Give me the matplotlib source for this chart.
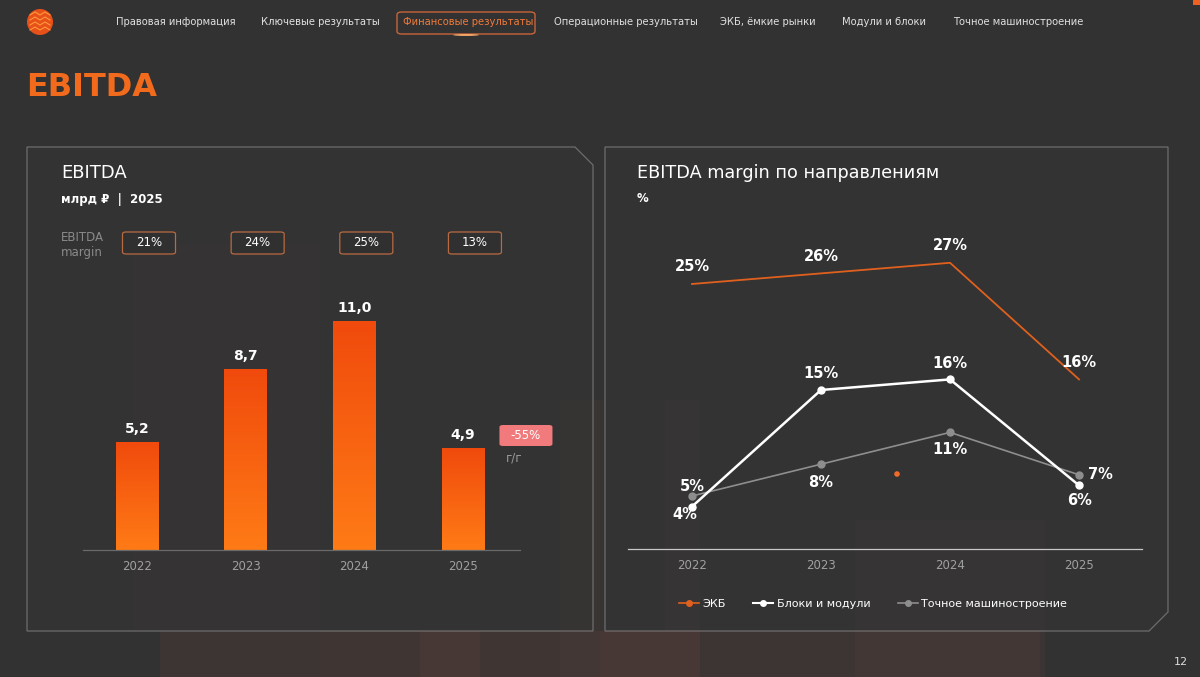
import numpy as np
import matplotlib
matplotlib.use("Agg")
import matplotlib.pyplot as plt
from matplotlib.patches import Polygon, FancyBboxPatch, Rectangle, Ellipse
from matplotlib.lines import Line2D
from matplotlib.colors import LinearSegmentedColormap

plt.rcParams['font.family'] = ['DejaVu Sans', 'Noto Sans']

W, H = 1200, 677

# данные
years = ["2022", "2023", "2024", "2025"]
ebitda = [5.2, 8.7, 11.0, 4.9]
ebitda_labels = ["5,2", "8,7", "11,0", "4,9"]
ebitda_margin = ["21%", "24%", "25%", "13%"]
yoy_change = "-55%"

ekb = [25, 26, 27, 16]
blocks = [4, 15, 16, 6]
precision = [5, 8, 11, 7]
series_names = ["ЭКБ", "Блоки и модули", "Точное машиностроение"]

nav_items = ["Правовая информация", "Ключевые результаты", "Финансовые результаты",
             "Операционные результаты", "ЭКБ, ёмкие рынки", "Модули и блоки",
             "Точное машиностроение"]
active_item = 2

BG = "#323232"
ORANGE = "#f26b1d"
C_EKB = "#e0601e"
C_BLK = "#ffffff"
C_PRC = "#8e8e8e"


def fx(x):
    return x / W


def fy(y):
    return 1 - y / H


fig = plt.figure(figsize=(12, 6.77), dpi=100)
fig.patch.set_facecolor(BG)


def frect(x0, y0, x1, y1, color, alpha, z=0.1):
    fig.add_artist(Rectangle((fx(x0), fy(y1)), (x1 - x0) / W, (y1 - y0) / H,
                             transform=fig.transFigure, fc=color, alpha=alpha,
                             lw=0, zorder=z))


def fdot(x, y, r, color, z=3, alpha=1.0):
    fig.add_artist(Ellipse((fx(x), fy(y)), 2 * r / W, 2 * r / H,
                           transform=fig.transFigure, fc=color, ec="none",
                           alpha=alpha, zorder=z))


# размытые фоновые пятна
frect(133, 245, 320, 631, "#5a3f36", 0.14)
frect(320, 400, 600, 677, "#5a3f36", 0.10)
frect(560, 400, 700, 677, "#6a4a42", 0.08)
frect(665, 300, 780, 631, "#5a4540", 0.10)
frect(855, 520, 1045, 677, "#6a4a40", 0.16)
frect(160, 631, 1040, 677, "#5a403a", 0.25)
frect(420, 631, 480, 677, "#7a4a40", 0.15)
frect(600, 631, 700, 677, "#6a3f3a", 0.2)

# панели
left_panel = [(27, 147), (575, 147), (593, 165), (593, 631), (27, 631)]
right_panel = [(605, 147), (1168, 147), (1168, 612), (1149, 631), (605, 631)]
for pts in (left_panel, right_panel):
    fig.add_artist(Polygon([(fx(x), fy(y)) for x, y in pts], closed=True,
                           transform=fig.transFigure, fc="#343434", alpha=0.55,
                           ec="#9c9c9c", lw=0.9, zorder=0.5))

# навигация
fdot(40, 22, 13, "#e8501a")
for k in range(4):
    yy = 13 + k * 5
    fig.add_artist(Line2D([fx(30), fx(35), fx(40), fx(45), fx(50)],
                          [fy(yy + 2), fy(yy - 1), fy(yy + 2), fy(yy - 1), fy(yy + 2)],
                          transform=fig.transFigure, color="#ff9a3a", lw=0.8, zorder=4))

nav_x = [116, 261, 403, 554, 720, 842, 953]
for i, (name, x) in enumerate(zip(nav_items, nav_x)):
    col = "#f07a3a" if i == active_item else "#e0e0e0"
    fig.text(fx(x), fy(22), name, color=col, fontsize=7.2, ha="left", va="center")
fig.add_artist(FancyBboxPatch((fx(397), fy(34)), 138 / W, 22 / H,
                              boxstyle="round,pad=0,rounding_size=0.004",
                              transform=fig.transFigure, fc="none", ec="#c8643a",
                              lw=1.0, zorder=3))
fig.add_artist(Ellipse((fx(466), fy(35)), 26 / W, 2 / H, transform=fig.transFigure,
                       fc="#ffb070", ec="none", alpha=0.9, zorder=3))
frect(1193, 0, 1200, 5, "#f06020", 1.0, z=3)

fig.text(fx(26), fy(88), "EBITDA", color=ORANGE, fontsize=23, fontweight="bold",
         ha="left", va="center")

# левая панель: заголовки
fig.text(fx(61), fy(173), "EBITDA", color="white", fontsize=13, ha="left", va="center")
fig.text(fx(61), fy(200), "млрд ₽  |  2025", color="white", fontsize=8.5,
         fontweight="semibold", ha="left", va="center")
fig.text(fx(61), fy(238), "EBITDA", color="#8a8a8a", fontsize=8.5, ha="left", va="center")
fig.text(fx(61), fy(252), "margin", color="#8a8a8a", fontsize=8.5, ha="left", va="center")

# столбцы EBITDA
ax1 = fig.add_axes([fx(83), fy(550), (520 - 83) / W, (550 - 300) / H])
ax1.set_facecolor("none")
ax1.set_zorder(2)
x = np.arange(len(years))
bars = ax1.bar(x, ebitda, width=0.39, color="none", lw=0)
cmap = LinearSegmentedColormap.from_list("bar", ["#ff7b16", "#f04a0c"])
grad = np.linspace(0, 1, 256).reshape(-1, 1)
for b in bars:
    im = ax1.imshow(grad, extent=[b.get_x(), b.get_x() + b.get_width(), 0, b.get_height()],
                    origin="lower", aspect="auto", cmap=cmap, zorder=2)
    im.set_clip_path(b)
ax1.set_xlim(-0.497, 3.525)
ax1.set_ylim(0, 12.02)
for i, (v, lab) in enumerate(zip(ebitda, ebitda_labels)):
    ax1.annotate(lab, (i, v), xytext=(0, 9.5), textcoords="offset points",
                 ha="center", va="center", color="white", fontsize=10, fontweight="bold")
ax1.set_xticks(x)
ax1.set_xticklabels(years, color="#a0a0a0", fontsize=8.5)
ax1.tick_params(axis="x", length=0, pad=7)
ax1.set_yticks([])
for s in ("top", "right", "left"):
    ax1.spines[s].set_visible(False)
ax1.spines["bottom"].set_color("#6a6a6a")
ax1.spines["bottom"].set_linewidth(0.9)

# плашки маржи EBITDA
inv = fig.transFigure.inverted()
for i, m in enumerate(ebitda_margin):
    cx = inv.transform(ax1.transData.transform((i, 0)))[0] + 12 / W
    fig.add_artist(FancyBboxPatch((cx - 26.5 / W, fy(254)), 53 / W, 22 / H,
                                  boxstyle="round,pad=0,rounding_size=0.003",
                                  transform=fig.transFigure, fc="#303030",
                                  ec="#b86a40", lw=0.9, zorder=3))
    fig.text(cx, fy(243), m, color="white", fontsize=8.5, ha="center", va="center",
             zorder=4)

# изменение г/г
cx = inv.transform(ax1.transData.transform((3, 0)))[0] + 63 / W
fig.add_artist(FancyBboxPatch((cx - 26.5 / W, fy(446)), 53 / W, 21 / H,
                              boxstyle="round,pad=0,rounding_size=0.003",
                              transform=fig.transFigure, fc="#f07a7c", ec="none",
                              zorder=3))
fig.text(cx, fy(435.5), yoy_change, color="white", fontsize=8.5, ha="center",
         va="center", zorder=4)
fig.text(fx(514), fy(458), "г/г", color="#9a9a9a", fontsize=8.5, ha="center", va="center")

# правая панель
fig.text(fx(637), fy(173), "EBITDA margin по направлениям", color="white", fontsize=12.7,
         ha="left", va="center")
fig.text(fx(637), fy(199), "%", color="white", fontsize=8.5, fontweight="semibold",
         ha="left", va="center")

ax2 = fig.add_axes([fx(628), fy(549), (1142 - 628) / W, (549 - 240) / H])
ax2.set_facecolor("none")
ax2.set_zorder(2)
ax2.plot(x, precision, color=C_PRC, lw=1.2, marker="o", ms=5, mfc=C_PRC, mec=C_PRC, zorder=3)
ax2.plot(x, blocks, color=C_BLK, lw=1.8, marker="o", ms=5, mfc=C_BLK, mec=C_BLK, zorder=4)
ax2.plot(x, ekb, color=C_EKB, lw=1.3, zorder=3)
ax2.set_xlim(-0.496, 3.488)
ax2.set_ylim(0, 29.15)
ax2.set_xticks(x)
ax2.set_xticklabels(years, color="#a0a0a0", fontsize=8.5)
ax2.tick_params(axis="x", length=0, pad=7)
ax2.set_yticks([])
for s in ("top", "right", "left"):
    ax2.spines[s].set_visible(False)
ax2.spines["bottom"].set_color("#c8c8c8")
ax2.spines["bottom"].set_linewidth(0.9)

# подписи значений (смещения в пикселях)
off_ekb = [(0, 17), (0, 17), (0, 17), (0, 17)]
off_blk = [(-7, -8), (0, 16), (0, 16), (1, -15)]
off_prc = [(0, 9), (0, -18), (0, -17), (21, 0)]
for vals, offs in ((ekb, off_ekb), (blocks, off_blk), (precision, off_prc)):
    for i, (v, (dx, dy)) in enumerate(zip(vals, offs)):
        ax2.annotate(f"{v}%", (i, v), xytext=(dx * 0.72, dy * 0.72),
                     textcoords="offset points", ha="center", va="center",
                     color="white", fontsize=10.5, fontweight="bold", zorder=5)

# случайная точка на фоне
fdot(897, 474, 2.8, "#f06a2a")

# легенда
handles = [
    Line2D([], [], color=C_EKB, lw=1.2, marker="o", ms=4, mfc=C_EKB, mec=C_EKB),
    Line2D([], [], color=C_BLK, lw=1.5, marker="o", ms=4, mfc=C_BLK, mec=C_BLK),
    Line2D([], [], color=C_PRC, lw=1.2, marker="o", ms=4, mfc=C_PRC, mec=C_PRC),
]
fig.legend(handles, series_names, loc="center", bbox_to_anchor=(fx(873), fy(604)),
           ncol=3, frameon=False, handlelength=1.8, handletextpad=0.3,
           columnspacing=2.5, fontsize=8, labelcolor="white")

fig.text(fx(1181), fy(662), "12", color="#dcdcdc", fontsize=8, ha="center", va="center")

fig.savefig("out.png", dpi=100, facecolor=fig.get_facecolor())
